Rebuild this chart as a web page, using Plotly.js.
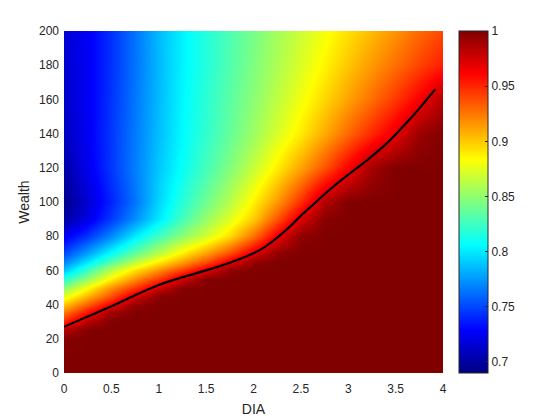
<!DOCTYPE html>
<html>
<head>
<meta charset="utf-8">
<script src="https://cdn.plot.ly/plotly-3.0.1.min.js"></script>
<style>
  html, body { margin: 0; padding: 0; background: #fff; }
  #plot { width: 560px; height: 420px; }
</style>
</head>
<body>
<div id="plot"></div>
<script>
// grid
const dia = [0, 0.25, 0.5, 0.75, 1, 1.25, 1.5, 1.75, 2, 2.25, 2.5, 2.75, 3, 3.25, 3.5, 3.75, 4];
const wealth = [0, 10, 20, 25, 30, 35, 40, 45, 50, 55, 60, 65, 70, 80, 90, 100, 120, 140, 160, 180, 200];

// one row per wealth value, one column per dia value
const z = [
  [1, 1, 1, 1, 1, 1, 1, 1, 1, 1, 1, 1, 1, 1, 1, 1, 1],
  [1, 1, 1, 1, 1, 1, 1, 1, 1, 1, 1, 1, 1, 1, 1, 1, 1],
  [0.998, 1, 1, 1, 1, 1, 1, 1, 1, 1, 1, 1, 1, 1, 1, 1, 1],
  [0.985, 1, 1, 1, 1, 1, 1, 1, 1, 1, 1, 1, 1, 1, 1, 1, 1],
  [0.952, 0.985, 1, 1, 1, 1, 1, 1, 1, 1, 1, 1, 1, 1, 1, 1, 1],
  [0.927, 0.960, 0.992, 1, 1, 1, 1, 1, 1, 1, 1, 1, 1, 1, 1, 1, 1],
  [0.902, 0.935, 0.965, 0.995, 1, 1, 1, 1, 1, 1, 1, 1, 1, 1, 1, 1, 1],
  [0.875, 0.907, 0.937, 0.972, 0.998, 1, 1, 1, 1, 1, 1, 1, 1, 1, 1, 1, 1],
  [0.848, 0.885, 0.918, 0.946, 0.975, 0.998, 1, 1, 1, 1, 1, 1, 1, 1, 1, 1, 1],
  [0.818, 0.852, 0.888, 0.918, 0.945, 0.975, 0.998, 1, 1, 1, 1, 1, 1, 1, 1, 1, 1],
  [0.787, 0.826, 0.862, 0.893, 0.918, 0.942, 0.970, 0.995, 1, 1, 1, 1, 1, 1, 1, 1, 1],
  [0.768, 0.800, 0.832, 0.863, 0.890, 0.913, 0.938, 0.968, 0.995, 1, 1, 1, 1, 1, 1, 1, 1],
  [0.750, 0.778, 0.807, 0.836, 0.862, 0.888, 0.912, 0.938, 0.970, 0.995, 1, 1, 1, 1, 1, 1, 1],
  [0.724, 0.745, 0.770, 0.800, 0.826, 0.849, 0.870, 0.895, 0.928, 0.966, 0.996, 1, 1, 1, 1, 1, 1],
  [0.700, 0.722, 0.746, 0.772, 0.800, 0.827, 0.852, 0.874, 0.900, 0.936, 0.973, 0.998, 1, 1, 1, 1, 1],
  [0.693, 0.716, 0.739, 0.764, 0.794, 0.818, 0.840, 0.862, 0.888, 0.915, 0.948, 0.985, 1, 1, 1, 1, 1],
  [0.702, 0.724, 0.745, 0.767, 0.790, 0.808, 0.827, 0.846, 0.867, 0.889, 0.912, 0.937, 0.963, 0.990, 1, 1, 1],
  [0.709, 0.726, 0.745, 0.766, 0.787, 0.805, 0.821, 0.837, 0.854, 0.872, 0.890, 0.910, 0.930, 0.950, 0.969, 0.992, 1],
  [0.712, 0.726, 0.744, 0.765, 0.786, 0.804, 0.819, 0.834, 0.849, 0.864, 0.880, 0.896, 0.912, 0.928, 0.945, 0.963, 0.985],
  [0.714, 0.726, 0.743, 0.764, 0.785, 0.803, 0.817, 0.831, 0.845, 0.859, 0.873, 0.887, 0.901, 0.915, 0.928, 0.941, 0.953],
  [0.716, 0.726, 0.743, 0.764, 0.786, 0.803, 0.817, 0.830, 0.843, 0.856, 0.868, 0.881, 0.893, 0.905, 0.917, 0.929, 0.940]
];

// black boundary line
const lineDia = [0, 0.25, 0.5, 0.75, 1, 1.25, 1.5, 1.75, 2, 2.1, 2.2, 2.3, 2.4, 2.5, 2.6, 2.8, 3, 3.2, 3.4, 3.5, 3.6, 3.7, 3.8, 3.92];
const lineWealth = [27, 33, 39, 45.5, 51.5, 56, 60, 64.5, 70, 73, 77, 81.5, 86.5, 92, 97, 107, 116, 124.5, 134, 139.5, 145.5, 151.5, 158, 166];

const cbTicks = [0.7, 0.75, 0.8, 0.85, 0.9, 0.95, 1];

// matlab-ish jet
const jet = [
  [0, 'rgb(0,0,128)'],
  [0.125, 'rgb(0,0,255)'],
  [0.375, 'rgb(0,255,255)'],
  [0.625, 'rgb(255,255,0)'],
  [0.875, 'rgb(255,0,0)'],
  [1, 'rgb(128,0,0)']
];

const txt = 'rgb(38,38,38)';

const data = [{
  type: 'heatmap',
  x: dia,
  y: wealth,
  z: z,
  zmin: 0.69,
  zmax: 1,
  zsmooth: 'best',
  colorscale: jet,
  hoverinfo: 'skip',
  colorbar: {
    x: 1.042,
    xanchor: 'left',
    xpad: 0,
    y: 0.5,
    yanchor: 'middle',
    ypad: 0,
    len: 1,
    thickness: 29,
    outlinewidth: 1,
    outlinecolor: txt,
    tickvals: cbTicks,
    ticktext: cbTicks.map(String),
    ticks: 'inside',
    ticklen: 3,
    tickcolor: txt,
    tickfont: {family: 'Liberation Sans, Arial', size: 12, color: txt}
  }
}, {
  type: 'scatter',
  mode: 'lines',
  x: lineDia,
  y: lineWealth,
  line: {color: 'black', width: 2.2, shape: 'spline', smoothing: 0.8},
  hoverinfo: 'skip',
  showlegend: false
}];

const layout = {
  width: 560,
  height: 420,
  margin: {l: 64, r: 117, t: 31, b: 47},
  paper_bgcolor: 'white',
  plot_bgcolor: 'white',
  showlegend: false,
  font: {family: 'Liberation Sans, Arial', size: 12, color: txt},
  xaxis: {
    range: [0, 4],
    tickvals: [0, 0.5, 1, 1.5, 2, 2.5, 3, 3.5, 4],
    ticktext: ['0', '0.5', '1', '1.5', '2', '2.5', '3', '3.5', '4'],
    showgrid: false,
    zeroline: false,
    showline: false,
    ticks: '',
    ticklabelstandoff: 7,
    tickfont: {size: 12, color: txt},
    title: {text: 'DIA', font: {size: 14, color: txt}, standoff: 9}
  },
  yaxis: {
    range: [0, 200],
    tickvals: [0, 20, 40, 60, 80, 100, 120, 140, 160, 180, 200],
    showgrid: false,
    zeroline: false,
    showline: false,
    ticks: '',
    ticklabelstandoff: 4,
    tickfont: {size: 12, color: txt},
    title: {text: 'Wealth', font: {size: 14, color: txt}, standoff: 6}
  }
};

Plotly.newPlot('plot', data, layout, {displayModeBar: false, staticPlot: true});
</script>
</body>
</html>
